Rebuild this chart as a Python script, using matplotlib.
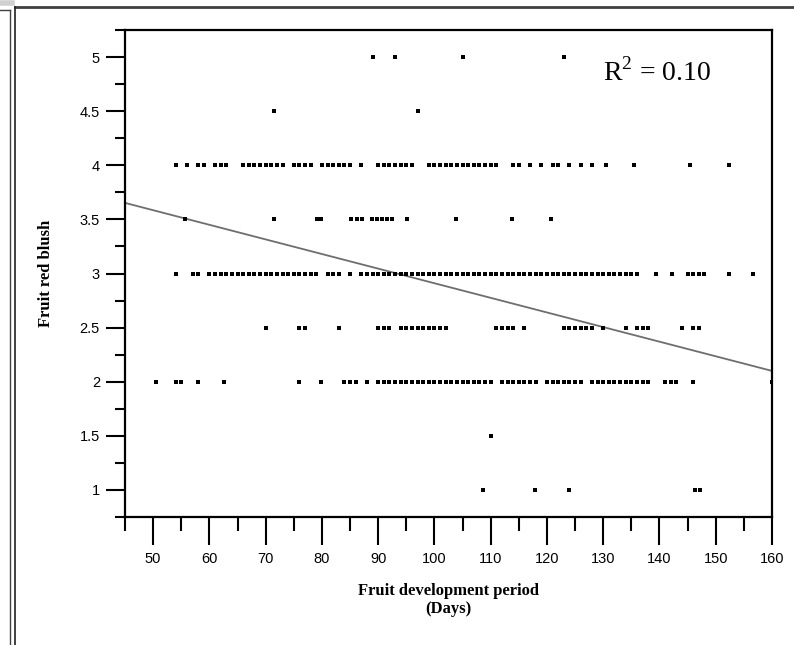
import numpy as np
import matplotlib
matplotlib.use("Agg")
import matplotlib.pyplot as plt
from matplotlib.lines import Line2D
from matplotlib.ticker import MultipleLocator

# blush score rows and the development periods (days) recorded at each
days_5 = [89, 93, 105, 123]
days_45 = [71.5, 97]
days_4 = [54, 56, 58, 59, 61, 62, 63,
          66, 67, 68, 69, 70, 71, 72, 73, 75, 76, 77, 78,
          80, 81, 82, 83, 84, 85, 87,
          90, 91, 92, 93, 94, 95, 96,
          99, 100, 101, 102, 103, 104, 105,
          106, 107, 108, 109, 110, 111, 114, 115, 117, 119, 121,
          122, 124, 126, 128, 130.5, 135.5, 145.5, 152.3]
days_35 = [55.7, 71.5, 79.1, 79.9, 85.2, 86.3, 87.1, 88.9, 89.8, 90.7,
           91.6, 92.5, 95.2, 103.8, 113.7, 120.8]
days_3 = [54, 57, 58,
          60, 61, 62, 63, 64, 65, 66, 67, 68, 69, 70, 71, 72,
          73, 74, 75, 76, 77, 78, 79, 81, 82, 83, 85,
          87, 88, 89, 90, 91, 92,
          93, 94, 95, 96, 97, 98, 99, 100, 101, 102, 103, 104, 105, 106,
          107, 108, 109, 110, 111, 112, 113, 114, 115, 116, 117, 118, 119,
          120, 121, 122, 123, 124, 125, 126, 127, 128, 129,
          130, 131, 132, 133, 134, 135, 136,
          139.4, 142.3, 145, 146, 147, 148, 152.4, 156.6]
days_25 = [70, 76, 77, 83, 90, 91, 92, 94, 95, 96, 97,
           98, 99, 100, 101, 102, 111, 112, 113, 114, 116,
           123, 124, 125, 126, 127, 128, 130, 134, 136, 137, 138,
           144, 146, 147]
days_2 = [50.5, 54, 55, 58, 62.6, 76, 79.8, 84, 85, 86, 88,
          90, 91, 92, 93, 94, 95, 96, 97, 98, 99, 100, 101, 102, 103,
          104, 105, 106, 107, 108, 109, 110,
          112, 113, 114, 115, 116, 117, 118,
          120, 121, 122, 123, 124, 125, 126,
          128, 129, 130, 131, 132, 133, 134, 135, 136, 137, 138,
          141, 142, 143, 146, 160]
days_15 = [110]
days_1 = [108.7, 117.8, 124, 146.3, 147.2]

rows = [(5, days_5), (4.5, days_45), (4, days_4), (3.5, days_35),
        (3, days_3), (2.5, days_25), (2, days_2), (1.5, days_15), (1, days_1)]

# fitted line: blush = intercept + slope * days
fit_intercept = 4.26
fit_slope = -0.0135
r_squared = 0.10

plt.rcParams['mathtext.fontset'] = 'custom'
plt.rcParams['mathtext.rm'] = 'Liberation Serif'

fig = plt.figure(figsize=(7.94, 6.45), dpi=100)
ax = fig.add_axes([125 / 794, 1 - 517 / 645, 647 / 794, 487 / 645])

for score, days in rows:
    ax.scatter(days, np.full(len(days), score), marker='s', s=12,
               color='black', linewidths=0, zorder=3)

xfit = np.array([45, 160])
ax.plot(xfit, fit_intercept + fit_slope * xfit, color='#6e6e6e', lw=1.3,
        zorder=2)

ax.set_xlim(45, 160)
ax.set_ylim(0.75, 5.25)
ax.xaxis.set_minor_locator(MultipleLocator(5))
ax.yaxis.set_minor_locator(MultipleLocator(0.25))
ax.set_xticks(np.arange(50, 161, 10))
ax.set_yticks([1, 1.5, 2, 2.5, 3, 3.5, 4, 4.5, 5])
ax.set_yticklabels(['1', '1.5', '2', '2.5', '3', '3.5', '4', '4.5', '5'])

tick_font = ['Liberation Sans Narrow', 'Liberation Sans', 'DejaVu Sans']
for lab in ax.get_xticklabels() + ax.get_yticklabels():
    lab.set_family(tick_font)
    lab.set_fontsize(10.5)
ax.tick_params(axis='y', which='major', direction='out', length=14, width=1.5, pad=4)
ax.tick_params(axis='y', which='minor', direction='out', length=7, width=1.5)
ax.tick_params(axis='x', which='major', direction='out', length=20, width=1.5, pad=5)
ax.tick_params(axis='x', which='minor', direction='out', length=10, width=1.5)
for sp in ax.spines.values():
    sp.set_linewidth(1.6)

ax.set_ylabel('Fruit red blush', family='Liberation Serif',
              fontweight='bold', fontsize=12)
ax.yaxis.set_label_coords(-0.11, 0.5)
ax.set_xlabel('Fruit development period\n(Days)', family='Liberation Serif',
              fontweight='bold', fontsize=12, linespacing=1.2)
ax.xaxis.set_label_coords(0.5, -0.135)

ax.text(139.6, 4.86, 'R$^2$ = %.2f' % r_squared, family='Liberation Serif',
        fontsize=20, ha='center', va='center')

# window border around the plot
def px_line(x0, y0, x1, y1, color='black', lw=1.0):
    fig.add_artist(Line2D([x0 / 794, x1 / 794], [1 - y0 / 645, 1 - y1 / 645],
                          transform=fig.transFigure, color=color, lw=lw))

px_line(0, 3, 12, 3, color='#d0d0d0', lw=4)
px_line(0, 10, 10, 10, color='#404040', lw=1)
px_line(10, 10, 10, 645, color='#404040', lw=1)
px_line(15, 7, 794, 7, color='#404040', lw=2)
px_line(15, 7, 15, 645, color='#202020', lw=1.2)

fig.savefig('out.png', dpi=100)
